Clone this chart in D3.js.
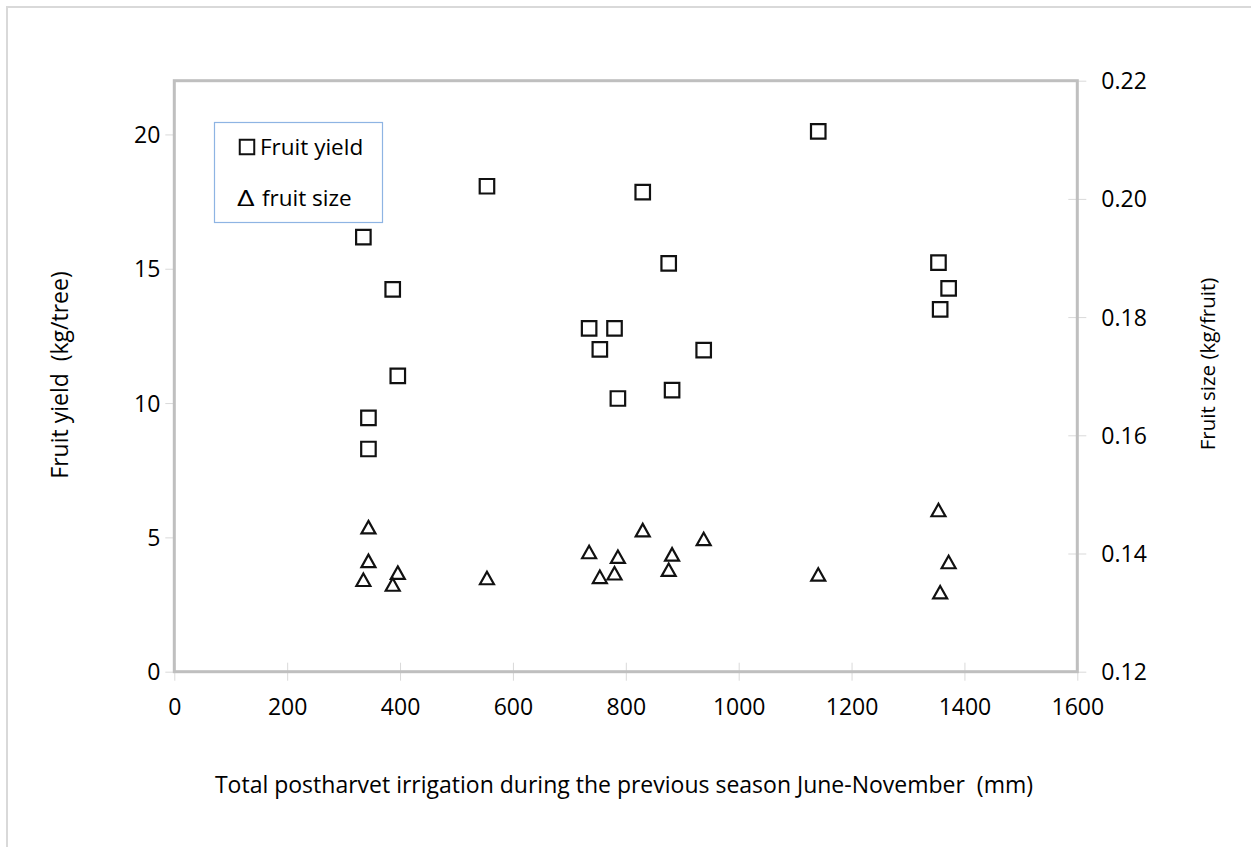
<!DOCTYPE html>
<html>
<head>
<meta charset="utf-8">
<script src="https://cdn.jsdelivr.net/npm/d3@7"></script>
<style>
  body { margin: 0; background: #fff; }
  text { font-family: "Open Sans", "Noto Sans", sans-serif; fill: #000; }
</style>
</head>
<body>
<svg id="chart" width="1251" height="847"></svg>
<script>
// postharvest irrigation (mm) of each plot, one value per point pair
var irrigation = [335, 344, 344, 387, 396, 554, 735, 754, 780, 786, 830, 876, 882, 938, 1141, 1354, 1357, 1372];
// fruit yield (kg/tree) - left axis
var fruitYield = [16.18, 9.45, 8.29, 14.23, 11.01, 18.07, 12.78, 12.0, 12.78, 10.17, 17.85, 15.2, 10.48, 11.97, 20.11, 15.23, 13.49, 14.27];
// fruit size (kg/fruit) - right axis
var fruitSize = [0.1356, 0.1445, 0.1388, 0.1348, 0.1368, 0.1359, 0.1403, 0.1361, 0.1367, 0.1395, 0.1440, 0.1373, 0.1399, 0.1425, 0.1365, 0.1474, 0.1335, 0.1386];

var xTicks = [0, 200, 400, 600, 800, 1000, 1200, 1400, 1600];
var yTicks = [0, 5, 10, 15, 20];
var y2Ticks = [0.12, 0.14, 0.16, 0.18, 0.20, 0.22];
var seriesNames = ["Fruit yield", "fruit size"];

var xTitle = "Total postharvet irrigation during the previous season June-November  (mm)";
var yTitle = "Fruit yield  (kg/tree)";
var y2Title = "Fruit size (kg/fruit)";

var svg = d3.select("#chart");

// plot area in pixels (note: "top" is taken by window.top, so use other names)
var pLeft = 174.3, pRight = 1077.3, pTop = 80.7, pBottom = 671.7;

var x = d3.scaleLinear().domain([0, 1600]).range([pLeft, pRight]);
var y = d3.scaleLinear().domain([0, 22]).range([pBottom, pTop]);
var y2 = d3.scaleLinear().domain([0.12, 0.22]).range([pBottom, pTop]);

// outer chart border
svg.append("rect")
  .attr("x", 7).attr("y", 7)
  .attr("width", 1300).attr("height", 900)
  .attr("fill", "none")
  .attr("stroke", "#d9d9d9")
  .attr("stroke-width", 2);

// axes (labels + tick lines), domain lines removed, plot border drawn after
var xAxis = svg.append("g")
  .attr("transform", "translate(0," + pBottom + ")")
  .call(d3.axisBottom(x).tickValues(xTicks).tickFormat(d3.format("d")).tickSize(9));
xAxis.select(".domain").remove();
xAxis.selectAll(".tick line").attr("y1", -9).attr("y2", 9).attr("stroke", "#d9d9d9");
xAxis.selectAll(".tick text").attr("y", 43).attr("dy", 0)
  .style("font-size", "23px").style("font-family", "Open Sans");

var yAxis = svg.append("g")
  .attr("transform", "translate(" + pLeft + ",0)")
  .call(d3.axisLeft(y).tickValues(yTicks).tickSize(9));
yAxis.select(".domain").remove();
yAxis.selectAll(".tick line").attr("stroke", "#d9d9d9");
yAxis.selectAll(".tick text").attr("x", -14).attr("dy", "0.35em")
  .style("font-size", "23px").style("font-family", "Open Sans");

var y2Axis = svg.append("g")
  .attr("transform", "translate(" + pRight + ",0)")
  .call(d3.axisRight(y2).tickValues(y2Ticks).tickFormat(d3.format(".2f")).tickSize(9));
y2Axis.select(".domain").remove();
y2Axis.selectAll(".tick line").attr("x1", -9).attr("x2", 9).attr("stroke", "#d9d9d9");
y2Axis.selectAll(".tick text").attr("x", 24).attr("dy", "0.35em")
  .style("font-size", "23px").style("font-family", "Open Sans");

// plot area border
svg.append("rect")
  .attr("x", pLeft).attr("y", pTop)
  .attr("width", pRight - pLeft).attr("height", pBottom - pTop)
  .attr("fill", "none")
  .attr("stroke", "#bfbfbf")
  .attr("stroke-width", 3);

// axis titles
svg.append("text")
  .attr("transform", "translate(68,375) rotate(-90)")
  .attr("text-anchor", "middle")
  .style("font-size", "23px")
  .style("white-space", "pre")
  .text(yTitle);

svg.append("text")
  .attr("transform", "translate(1215,364) rotate(-90)")
  .attr("text-anchor", "middle")
  .style("font-size", "20.5px")
  .text(y2Title);

svg.append("text")
  .attr("x", 624).attr("y", 793)
  .attr("text-anchor", "middle")
  .style("font-size", "23px")
  .style("white-space", "pre")
  .text(xTitle);

// markers
var squarePath = d3.symbol(d3.symbolSquare, 14.5 * 14.5)();
var trianglePath = "M0,-6L7,6.5L-7,6.5Z";

var pts = irrigation.map(function(d, i) {
  return { x: d, yld: fruitYield[i], size: fruitSize[i] };
});

svg.append("g").selectAll("path")
  .data(pts)
  .enter()
  .append("path")
  .attr("d", squarePath)
  .attr("transform", function(d) { return "translate(" + x(d.x) + "," + y(d.yld) + ")"; })
  .attr("fill", "none")
  .attr("stroke", "#111")
  .attr("stroke-width", 2.2);

svg.append("g").selectAll("path")
  .data(pts)
  .enter()
  .append("path")
  .attr("d", trianglePath)
  .attr("transform", function(d) { return "translate(" + x(d.x) + "," + y2(d.size) + ")"; })
  .attr("fill", "none")
  .attr("stroke", "#111")
  .attr("stroke-width", 2.2);

// legend box
var legend = svg.append("g");
legend.append("rect")
  .attr("x", 214.5).attr("y", 122.5)
  .attr("width", 168).attr("height", 100)
  .attr("fill", "#fff")
  .attr("stroke", "#8eb4e3")
  .attr("stroke-width", 1.2);

legend.append("path")
  .attr("d", squarePath)
  .attr("transform", "translate(247,147)")
  .attr("fill", "none")
  .attr("stroke", "#111")
  .attr("stroke-width", 2);
legend.append("text")
  .attr("x", 260).attr("y", 155)
  .style("font-size", "22.5px")
  .text(seriesNames[0]);

// the delta sign is wide in the original font, stretch it a bit
legend.append("text")
  .attr("transform", "translate(237,205.5) scale(1.45,1)")
  .style("font-size", "21px")
  .text("\u0394");
legend.append("text")
  .attr("x", 262).attr("y", 205.5)
  .style("font-size", "22.5px")
  .text(seriesNames[1]);
</script>
</body>
</html>
